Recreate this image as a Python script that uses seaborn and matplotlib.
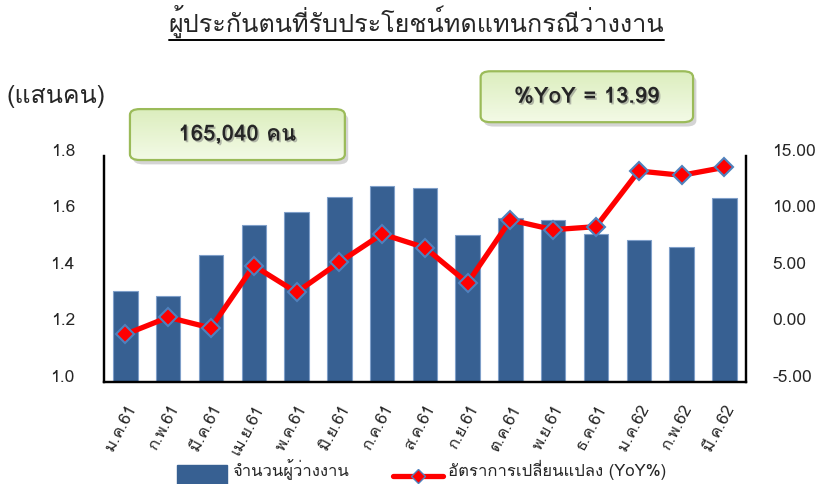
import numpy as np
import pandas as pd
import matplotlib
matplotlib.use("Agg")
import matplotlib.pyplot as plt
import matplotlib.transforms as mtransforms
import matplotlib.patheffects as pe
from matplotlib import font_manager, ft2font
from matplotlib.patches import Patch, FancyBboxPatch, Rectangle
from matplotlib.lines import Line2D
from matplotlib.legend_handler import HandlerPatch, HandlerLine2D
from matplotlib.colors import LinearSegmentedColormap
import seaborn as sns

## Data ##
months = ["ม.ค.61", "ก.พ.61", "มี.ค.61", "เม.ย.61", "พ.ค.61", "มิ.ย.61", "ก.ค.61",
          "ส.ค.61", "ก.ย.61", "ต.ค.61", "พ.ย.61", "ธ.ค.61", "ม.ค.62", "ก.พ.62", "มี.ค.62"]
insured = [1.321, 1.304, 1.448, 1.556, 1.603, 1.654, 1.695, 1.687,
           1.520, 1.580, 1.574, 1.525, 1.503, 1.476, 1.650]  # hundred-thousand persons
yoy = [-0.80, 0.71, -0.24, 5.28, 2.92, 5.58, 8.09, 6.88,
       3.75, 9.33, 8.47, 8.74, 13.67, 13.29, 13.99]
left_ticks = [1.0, 1.2, 1.4, 1.6, 1.8]
right_ticks = [-5, 0, 5, 10, 15]

title = "ผู้ประกันตนที่รับประโยชน์ทดแทนกรณีว่างงาน"
unit_label = "(แสนคน)"
bar_label = "จำนวนผู้ว่างงาน"
line_label = "อัตราการเปลี่ยนแปลง (YoY%)"
box1_text = "165,040 คน"
box2_text = "%YoY = 13.99"

sns.set_theme(style="white")

# find a font that can draw Thai
thai_font = None
for f in font_manager.fontManager.ttflist:
    try:
        if ft2font.FT2Font(f.fname).get_char_index(0x0E01):
            thai_font = f.name
            break
    except Exception:
        pass
fams = [thai_font, "DejaVu Sans"] if thai_font else ["DejaVu Sans"]
plt.rcParams["font.family"] = fams

df = pd.DataFrame({"month": months, "insured": insured, "yoy": yoy})

fig = plt.figure(figsize=(8.33, 4.85), dpi=100)
ax = fig.add_axes([0.1249, 0.2109, 0.7703, 0.4654])

sns.barplot(data=df, x="month", y="insured", ax=ax, color="#376092",
            saturation=1, width=0.57, edgecolor="#7F9FC9", linewidth=0.8)
ax.set_ylim(1.0, 1.8)
ax.set_xlim(-0.5, len(months) - 0.5)
ax.set_yticks(left_ticks)
ax.set_yticklabels(["{:.1f}".format(v) for v in left_ticks])
ax.set_xlabel("")
ax.set_ylabel("")
ax.tick_params(axis="y", length=0, pad=21, labelsize=12.5)
ax.tick_params(axis="x", length=0, pad=14, labelsize=12)
for lab in ax.get_xticklabels():
    lab.set_rotation(62)
    lab.set_ha("right")
    lab.set_rotation_mode("anchor")

ax2 = ax.twinx()
sns.lineplot(x=np.arange(len(months)), y=df["yoy"], ax=ax2, color="red",
             linewidth=3.8, marker="D", markersize=9, markerfacecolor="red",
             markeredgecolor="#4F81BD", markeredgewidth=1.5)
ax2.set_ylim(-5, 15)
ax2.set_yticks(right_ticks)
ax2.set_yticklabels(["{:.2f}".format(v) for v in right_ticks])
ax2.set_ylabel("")
ax2.tick_params(axis="y", length=0, pad=19, labelsize=12.5)

# excel draws the value labels a little above the gridline position
shift = mtransforms.ScaledTranslation(0, 7 / 100, fig.dpi_scale_trans)
for lab in ax.get_yticklabels() + ax2.get_yticklabels():
    lab.set_transform(lab.get_transform() + shift)

for a in (ax, ax2):
    a.spines["top"].set_visible(False)
    for s in ("left", "right", "bottom"):
        a.spines[s].set_color("black")
        a.spines[s].set_linewidth(1.6)

# title with underline
t = fig.text(0.5, 0.955, title, ha="center", va="center", fontsize=18.2)
fig.canvas.draw()
bb = t.get_window_extent().transformed(fig.transFigure.inverted())
fig.add_artist(Line2D([bb.x0, bb.x1], [bb.y0 - 0.005, bb.y0 - 0.005],
                      transform=fig.transFigure, color="black", lw=1.4))

fig.text(0.008, 0.80, unit_label, ha="left", va="center", fontsize=18)

# green callout boxes
green = LinearSegmentedColormap.from_list("g", ["#F3FAE6", "#DCEEBE"])
grad = np.linspace(0, 1, 64).reshape(-1, 1)
bg = fig.add_axes([0, 0, 1, 1], zorder=5)
bg.axis("off")
for (x0, y0, w, h), txt in [((0.156, 0.668, 0.258, 0.105), box1_text),
                            ((0.577, 0.746, 0.255, 0.105), box2_text)]:
    bg.add_patch(FancyBboxPatch((x0 + 0.004, y0 - 0.009), w, h,
                                boxstyle="round,pad=0,rounding_size=0.012",
                                fc="#AAAAAA", ec="none", alpha=0.5))
    box = FancyBboxPatch((x0, y0), w, h, boxstyle="round,pad=0,rounding_size=0.012",
                         fc="none", ec="#9BBB59", lw=1.6, zorder=3)
    bg.add_patch(box)
    im = bg.imshow(grad, cmap=green, extent=(x0, x0 + w, y0, y0 + h),
                   aspect="auto", origin="lower", zorder=2)
    im.set_clip_path(box)
    bg.text(x0 + w / 2, y0 + h / 2, txt, ha="center", va="center",
            fontsize=16, fontweight="bold", zorder=4,
            path_effects=[pe.withSimplePatchShadow(offset=(1.2, -1.2),
                                                   shadow_rgbFace="#777777",
                                                   alpha=0.5)])
bg.set_xlim(0, 1)
bg.set_ylim(0, 1)


# legend keys sit a bit lower than their text, as in the original
def low_rect(legend, orig_handle, xdescent, ydescent, width, height, fontsize):
    return Rectangle((-xdescent, -ydescent - 0.55 * height), width, 1.3 * height)


class LowLine(HandlerLine2D):
    def create_artists(self, legend, orig_handle, xdescent, ydescent,
                       width, height, fontsize, trans):
        return super().create_artists(legend, orig_handle, xdescent, ydescent + 11,
                                      width, height, fontsize, trans)


handles = [Patch(facecolor="#376092", edgecolor="#376092"),
           Line2D([], [], color="red", lw=3.8, marker="D", markersize=7,
                  markerfacecolor="red", markeredgecolor="#4F81BD")]
fig.legend(handles, [bar_label, line_label], loc="lower left",
           bbox_to_anchor=(0.195, -0.02), ncol=2, frameon=False, fontsize=12,
           handlelength=3.0, handleheight=1.0, columnspacing=2.6,
           handletextpad=0.3,
           handler_map={Patch: HandlerPatch(patch_func=low_rect),
                        Line2D: LowLine()})

fig.savefig("out.png", dpi=100)
